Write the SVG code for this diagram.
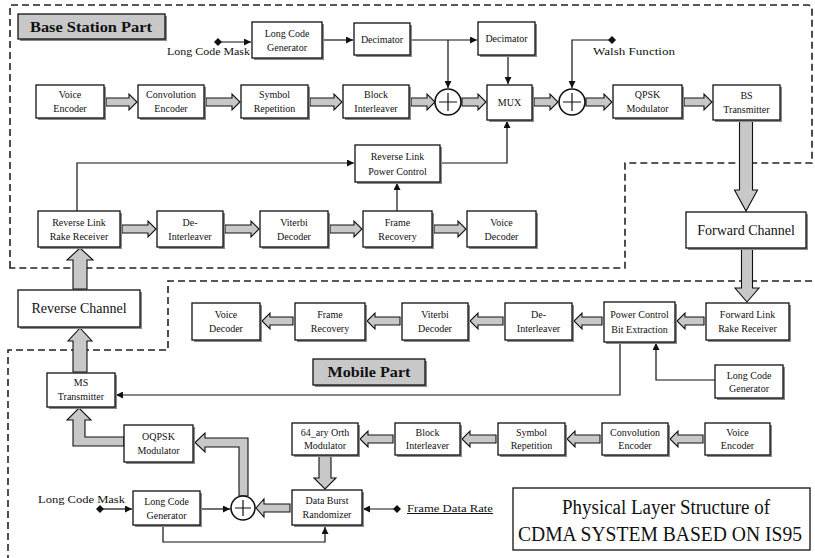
<svg xmlns="http://www.w3.org/2000/svg" width="815" height="558" viewBox="0 0 815 558">
  <style>
    .bg { fill: #ffffff; }
    .box { fill: #ffffff; stroke: #111111; stroke-width: 1.3; }
    .shadow { fill: #8a8a8a; }
    .tag { fill: #c8c8c8; stroke: #111111; stroke-width: 1.3; }
    .t { font-family: "Liberation Serif", "Times New Roman", serif; font-size: 10px; fill: #111111; text-anchor: middle; }
    .lbl { font-family: "Liberation Serif", "Times New Roman", serif; font-size: 10px; fill: #111111; }
    .big { font-family: "Liberation Serif", "Times New Roman", serif; font-size: 14px; fill: #111111; text-anchor: middle; }
    .part { font-family: "Liberation Serif", "Times New Roman", serif; font-size: 15px; font-weight: bold; fill: #111111; text-anchor: middle; }
    .title { font-family: "Liberation Serif", "Times New Roman", serif; font-size: 20px; fill: #111111; text-anchor: middle; }
    .ba { fill: #c8c8c8; stroke: #111111; stroke-width: 1.1; stroke-linejoin: miter; }
    .ln { fill: none; stroke: #111111; stroke-width: 1.2; }
    .dash { fill: none; stroke: #222222; stroke-width: 1.6; stroke-dasharray: 7 4; }
    .xor { fill: #ffffff; stroke: #111111; stroke-width: 1.6; }
  </style>
  <defs>
    <marker id="arr" viewBox="0 0 7 7" refX="7" refY="3.5" markerWidth="7" markerHeight="7" markerUnits="userSpaceOnUse" orient="auto">
      <path d="M0,0 L7,3.5 L0,7 z" fill="#111111"/>
    </marker>
    <marker id="dia" viewBox="0 0 8 8" refX="4" refY="4" markerWidth="8" markerHeight="8" markerUnits="userSpaceOnUse" orient="auto">
      <path d="M4,0 L8,4 L4,8 L0,4 z" fill="#111111"/>
    </marker>
  </defs>

  <rect class="bg" x="0" y="0" width="815" height="558"/>

  <!-- region outlines -->
  <g id="regions">
    <path class="dash" d="M10,268 V5 H808 Q812,5 812,9 V163 H625 V268 Z"/>
    <path class="dash" d="M812,281 H168 V350 H8 V558"/>
  </g>

  <!-- block arrows and signal lines -->
  <g id="connectors">
    <!-- base station transmit chain -->
    <polygon class="ba" points="106,98 129,98 129,94 137,102 129,110 129,106 106,106"/>
    <polygon class="ba" points="206,98 232,98 232,94 240,102 232,110 232,106 206,106"/>
    <polygon class="ba" points="310,98 334,98 334,94 342,102 334,110 334,106 310,106"/>
    <polygon class="ba" points="411,98 427,98 427,94 435,102 427,110 427,106 411,106"/>
    <polygon class="ba" points="462,98 478,98 478,94 486,102 478,110 478,106 462,106"/>
    <polygon class="ba" points="534,98 550,98 550,94 558,102 550,110 550,106 534,106"/>
    <polygon class="ba" points="586,98 604,98 604,94 612,102 604,110 604,106 586,106"/>
    <polygon class="ba" points="684,98 704,98 704,94 712,102 704,110 704,106 684,106"/>
    <!-- base station receive chain -->
    <polygon class="ba" points="122,225 148,225 148,221 156,229 148,237 148,233 122,233"/>
    <polygon class="ba" points="225,225 251,225 251,221 259,229 251,237 251,233 225,233"/>
    <polygon class="ba" points="330,225 354,225 354,221 362,229 354,237 354,233 330,233"/>
    <polygon class="ba" points="434,225 458,225 458,221 466,229 458,237 458,233 434,233"/>
    <!-- channels -->
    <polygon class="ba" points="739.5,121 752.5,121 752.5,190 757.5,190 746,211 734.5,190 739.5,190"/>
    <polygon class="ba" points="741.5,249 752.5,249 752.5,288 759,288 747,302 735,288 741.5,288"/>
    <polygon class="ba" points="73,289 73,260 67,260 80,248 93,260 87,260 87,289"/>
    <polygon class="ba" points="73,372 73,341 68,341 80,328 92,341 87,341 87,372"/>
    <!-- mobile receive chain -->
    <polygon class="ba" points="704,317 685,317 685,313 677,321 685,329 685,325 704,325"/>
    <polygon class="ba" points="602,317 582,317 582,313 574,321 582,329 582,325 602,325"/>
    <polygon class="ba" points="503,317 478,317 478,313 470,321 478,329 478,325 503,325"/>
    <polygon class="ba" points="400,317 375,317 375,313 367,321 375,329 375,325 400,325"/>
    <polygon class="ba" points="293,317 270,317 270,313 262,321 270,329 270,325 293,325"/>
    <!-- mobile transmit chain -->
    <polygon class="ba" points="703,435 678,435 678,431 670,439 678,447 678,443 703,443"/>
    <polygon class="ba" points="600,435 575,435 575,431 567,439 575,447 575,443 600,443"/>
    <polygon class="ba" points="496,435 470,435 470,431 462,439 470,447 470,443 496,443"/>
    <polygon class="ba" points="393,435 368,435 368,431 360,439 368,447 368,443 393,443"/>
    <polygon class="ba" points="319,456 331,456 331,478 336,478 325,489 314,478 319,478"/>
    <polygon class="ba" points="290,504 264,504 264,499 256,508 264,517 264,512 290,512"/>
    <polygon class="ba" points="239,496 239,447 205,447 205,452 195,442.5 205,433 205,438 248,438 248,496"/>
    <polygon class="ba" points="124,437 85,437 85,420 91,420 79,408 67,420 73,420 73,446 124,446"/>

    <!-- thin signal lines -->
    <path class="ln" d="M322,40 H353" marker-end="url(#arr)"/>
    <path class="ln" d="M410,40 H477" marker-end="url(#arr)"/>
    <path class="ln" d="M448,40 V88" marker-end="url(#arr)"/>
    <path class="ln" d="M508,55 V84" marker-end="url(#arr)"/>
    <path class="ln" d="M612,40 H572 V88" marker-start="url(#dia)" marker-end="url(#arr)"/>
    <path class="ln" d="M218,42 H251" marker-start="url(#dia)" marker-end="url(#arr)"/>
    <path class="ln" d="M77,211 V163 H354" marker-end="url(#arr)"/>
    <path class="ln" d="M440,163 H507 V121" marker-end="url(#arr)"/>
    <path class="ln" d="M397,211 V183" marker-end="url(#arr)"/>
    <path class="ln" d="M620,342 V395 H116" marker-end="url(#arr)"/>
    <path class="ln" d="M715,380 H656 V343" marker-end="url(#arr)"/>
    <path class="ln" d="M100,509 H132" marker-start="url(#dia)" marker-end="url(#arr)"/>
    <path class="ln" d="M200,509 H230" marker-end="url(#arr)"/>
    <path class="ln" d="M163,525 V542 H325 V527" marker-end="url(#arr)"/>
    <path class="ln" d="M397,509 H363" marker-start="url(#dia)" marker-end="url(#arr)"/>
  </g>

  <!-- free labels -->
  <g id="labels">
    <text class="lbl" x="167" y="55" textLength="83" lengthAdjust="spacingAndGlyphs">Long Code Mask</text>
    <text class="lbl" x="593" y="55" textLength="82" lengthAdjust="spacingAndGlyphs">Walsh Function</text>
    <text class="lbl" x="38" y="503" textLength="87" lengthAdjust="spacingAndGlyphs">Long Code Mask</text>
    <text class="lbl" x="407" y="512" textLength="86" lengthAdjust="spacingAndGlyphs" text-decoration="underline">Frame Data Rate</text>
  </g>

  <!-- base station part -->
  <g id="bs-part-tag">
    <rect class="shadow" x="20" y="16" width="147" height="25"/>
    <rect class="tag" x="18" y="14" width="147" height="25"/>
    <text class="part" x="91" y="32" textLength="122" lengthAdjust="spacingAndGlyphs">Base Station Part</text>
  </g>
  <g id="bs-voice-encoder">
    <rect class="shadow" x="38" y="87" width="68" height="33"/>
    <rect class="box" x="36" y="85" width="68" height="33"/>
    <text class="t" x="70" y="98">Voice</text><text class="t" x="70" y="112">Encoder</text>
  </g>
  <g id="bs-conv-encoder">
    <rect class="shadow" x="140" y="87" width="66" height="33"/>
    <rect class="box" x="138" y="85" width="66" height="33"/>
    <text class="t" x="171" y="98">Convolution</text><text class="t" x="171" y="112">Encoder</text>
  </g>
  <g id="bs-symbol-rep">
    <rect class="shadow" x="243" y="87" width="67" height="33"/>
    <rect class="box" x="241" y="85" width="67" height="33"/>
    <text class="t" x="274.5" y="98">Symbol</text><text class="t" x="274.5" y="112">Repetition</text>
  </g>
  <g id="bs-block-int">
    <rect class="shadow" x="345" y="87" width="66" height="33"/>
    <rect class="box" x="343" y="85" width="66" height="33"/>
    <text class="t" x="376" y="98">Block</text><text class="t" x="376" y="112">Interleaver</text>
  </g>
  <g id="bs-long-code-gen">
    <rect class="shadow" x="254" y="24" width="70" height="36"/>
    <rect class="box" x="252" y="22" width="70" height="36"/>
    <text class="t" x="287" y="37">Long Code</text><text class="t" x="287" y="51">Generator</text>
  </g>
  <g id="bs-decimator-1">
    <rect class="shadow" x="356" y="25" width="56" height="32"/>
    <rect class="box" x="354" y="23" width="56" height="32"/>
    <text class="t" x="382" y="43">Decimator</text>
  </g>
  <g id="bs-decimator-2">
    <rect class="shadow" x="480" y="24" width="57" height="33"/>
    <rect class="box" x="478" y="22" width="57" height="33"/>
    <text class="t" x="506.5" y="42">Decimator</text>
  </g>
  <g id="bs-xor-1">
    <circle class="xor" cx="448" cy="102" r="13"/>
    <path class="ln" d="M448,93 V111 M439,102 H457" stroke-width="2"/>
  </g>
  <g id="bs-mux">
    <rect class="shadow" x="489" y="87" width="45" height="35"/>
    <rect class="box" x="487" y="85" width="45" height="35"/>
    <text class="t" x="509.5" y="106">MUX</text>
  </g>
  <g id="bs-xor-2">
    <circle class="xor" cx="572" cy="102" r="13"/>
    <path class="ln" d="M572,93 V111 M563,102 H581" stroke-width="2"/>
  </g>
  <g id="bs-qpsk">
    <rect class="shadow" x="615" y="87" width="69" height="33"/>
    <rect class="box" x="613" y="85" width="69" height="33"/>
    <text class="t" x="647.5" y="98">QPSK</text><text class="t" x="647.5" y="112">Modulator</text>
  </g>
  <g id="bs-transmitter">
    <rect class="shadow" x="715" y="87" width="67" height="35"/>
    <rect class="box" x="713" y="85" width="67" height="35"/>
    <text class="t" x="746.5" y="99">BS</text><text class="t" x="746.5" y="113">Transmitter</text>
  </g>
  <g id="bs-rl-power-control">
    <rect class="shadow" x="357" y="147" width="85" height="37"/>
    <rect class="box" x="355" y="145" width="85" height="37"/>
    <text class="t" x="397.5" y="160">Reverse Link</text><text class="t" x="397.5" y="175">Power Control</text>
  </g>
  <g id="bs-rl-rake">
    <rect class="shadow" x="40" y="213" width="82" height="36"/>
    <rect class="box" x="38" y="211" width="82" height="36"/>
    <text class="t" x="79" y="226">Reverse Link</text><text class="t" x="79" y="240">Rake Receiver</text>
  </g>
  <g id="bs-deinterleaver">
    <rect class="shadow" x="159" y="213" width="66" height="36"/>
    <rect class="box" x="157" y="211" width="66" height="36"/>
    <text class="t" x="190" y="226">De-</text><text class="t" x="190" y="240">Interleaver</text>
  </g>
  <g id="bs-viterbi">
    <rect class="shadow" x="262" y="213" width="68" height="36"/>
    <rect class="box" x="260" y="211" width="68" height="36"/>
    <text class="t" x="294" y="226">Viterbi</text><text class="t" x="294" y="240">Decoder</text>
  </g>
  <g id="bs-frame-recovery">
    <rect class="shadow" x="365" y="213" width="69" height="36"/>
    <rect class="box" x="363" y="211" width="69" height="36"/>
    <text class="t" x="397.5" y="226">Frame</text><text class="t" x="397.5" y="240">Recovery</text>
  </g>
  <g id="bs-voice-decoder">
    <rect class="shadow" x="469" y="213" width="69" height="36"/>
    <rect class="box" x="467" y="211" width="69" height="36"/>
    <text class="t" x="501.5" y="226">Voice</text><text class="t" x="501.5" y="240">Decoder</text>
  </g>

  <!-- channels -->
  <g id="forward-channel">
    <rect class="shadow" x="688" y="214" width="120" height="36"/>
    <rect class="box" x="686" y="212" width="120" height="36"/>
    <text class="big" x="746" y="235">Forward Channel</text>
  </g>
  <g id="reverse-channel">
    <rect class="shadow" x="20" y="292" width="122" height="37"/>
    <rect class="box" x="18" y="290" width="122" height="37"/>
    <text class="big" x="79" y="313">Reverse Channel</text>
  </g>

  <!-- mobile part -->
  <g id="ms-part-tag">
    <rect class="shadow" x="315" y="361" width="112" height="26"/>
    <rect class="tag" x="313" y="359" width="112" height="26"/>
    <text class="part" x="369" y="377" textLength="83" lengthAdjust="spacingAndGlyphs">Mobile Part</text>
  </g>
  <g id="ms-voice-decoder">
    <rect class="shadow" x="194" y="305" width="68" height="37"/>
    <rect class="box" x="192" y="303" width="68" height="37"/>
    <text class="t" x="226" y="318">Voice</text><text class="t" x="226" y="332">Decoder</text>
  </g>
  <g id="ms-frame-recovery">
    <rect class="shadow" x="297" y="305" width="70" height="37"/>
    <rect class="box" x="295" y="303" width="70" height="37"/>
    <text class="t" x="330" y="318">Frame</text><text class="t" x="330" y="332">Recovery</text>
  </g>
  <g id="ms-viterbi">
    <rect class="shadow" x="404" y="305" width="66" height="37"/>
    <rect class="box" x="402" y="303" width="66" height="37"/>
    <text class="t" x="435" y="318">Viterbi</text><text class="t" x="435" y="332">Decoder</text>
  </g>
  <g id="ms-deinterleaver">
    <rect class="shadow" x="507" y="305" width="67" height="37"/>
    <rect class="box" x="505" y="303" width="67" height="37"/>
    <text class="t" x="538.5" y="318">De-</text><text class="t" x="538.5" y="332">Interleaver</text>
  </g>
  <g id="ms-pc-bit-extraction">
    <rect class="shadow" x="606" y="304" width="71" height="40"/>
    <rect class="box" x="604" y="302" width="71" height="40"/>
    <text class="t" x="639.5" y="318">Power Control</text><text class="t" x="639.5" y="333">Bit Extraction</text>
  </g>
  <g id="ms-fl-rake">
    <rect class="shadow" x="708" y="305" width="83" height="37"/>
    <rect class="box" x="706" y="303" width="83" height="37"/>
    <text class="t" x="747.5" y="318">Forward Link</text><text class="t" x="747.5" y="332">Rake Receiver</text>
  </g>
  <g id="ms-long-code-gen-1">
    <rect class="shadow" x="717" y="367" width="68" height="33"/>
    <rect class="box" x="715" y="365" width="68" height="33"/>
    <text class="t" x="749" y="379">Long Code</text><text class="t" x="749" y="392">Generator</text>
  </g>
  <g id="ms-transmitter">
    <rect class="shadow" x="49" y="375" width="68" height="34"/>
    <rect class="box" x="47" y="373" width="68" height="34"/>
    <text class="t" x="81" y="386">MS</text><text class="t" x="81" y="400">Transmitter</text>
  </g>
  <g id="ms-voice-encoder">
    <rect class="shadow" x="707" y="425" width="65" height="32"/>
    <rect class="box" x="705" y="423" width="65" height="32"/>
    <text class="t" x="737.5" y="436">Voice</text><text class="t" x="737.5" y="449">Encoder</text>
  </g>
  <g id="ms-conv-encoder">
    <rect class="shadow" x="604" y="425" width="66" height="32"/>
    <rect class="box" x="602" y="423" width="66" height="32"/>
    <text class="t" x="635" y="436">Convolution</text><text class="t" x="635" y="449">Encoder</text>
  </g>
  <g id="ms-symbol-rep">
    <rect class="shadow" x="500" y="425" width="67" height="32"/>
    <rect class="box" x="498" y="423" width="67" height="32"/>
    <text class="t" x="531.5" y="436">Symbol</text><text class="t" x="531.5" y="449">Repetition</text>
  </g>
  <g id="ms-block-int">
    <rect class="shadow" x="397" y="425" width="65" height="32"/>
    <rect class="box" x="395" y="423" width="65" height="32"/>
    <text class="t" x="427.5" y="436">Block</text><text class="t" x="427.5" y="449">Interleaver</text>
  </g>
  <g id="ms-orth-mod">
    <rect class="shadow" x="294" y="425" width="66" height="32"/>
    <rect class="box" x="292" y="423" width="66" height="32"/>
    <text class="t" x="325" y="436">64_ary Orth</text><text class="t" x="325" y="449">Modulator</text>
  </g>
  <g id="ms-data-burst">
    <rect class="shadow" x="294" y="492" width="70" height="35"/>
    <rect class="box" x="292" y="490" width="70" height="35"/>
    <text class="t" x="327" y="504">Data Burst</text><text class="t" x="327" y="518">Randomizer</text>
  </g>
  <g id="ms-xor">
    <circle class="xor" cx="243" cy="508" r="12"/>
    <path class="ln" d="M243,500 V516 M235,508 H251" stroke-width="2"/>
  </g>
  <g id="ms-oqpsk">
    <rect class="shadow" x="126" y="427" width="69" height="37"/>
    <rect class="box" x="124" y="425" width="69" height="37"/>
    <text class="t" x="158.5" y="440">OQPSK</text><text class="t" x="158.5" y="454">Modulator</text>
  </g>
  <g id="ms-long-code-gen-2">
    <rect class="shadow" x="135" y="493" width="67" height="34"/>
    <rect class="box" x="133" y="491" width="67" height="34"/>
    <text class="t" x="166.5" y="505">Long Code</text><text class="t" x="166.5" y="519">Generator</text>
  </g>

  <!-- caption -->
  <g id="caption">
    <rect class="box" x="513" y="488" width="297" height="62" stroke-width="1.6"/>
    <text class="title" x="666" y="514" textLength="208" lengthAdjust="spacingAndGlyphs">Physical Layer Structure of</text>
    <text class="title" x="660" y="541" textLength="284" lengthAdjust="spacingAndGlyphs">CDMA SYSTEM BASED ON IS95</text>
  </g>
</svg>
